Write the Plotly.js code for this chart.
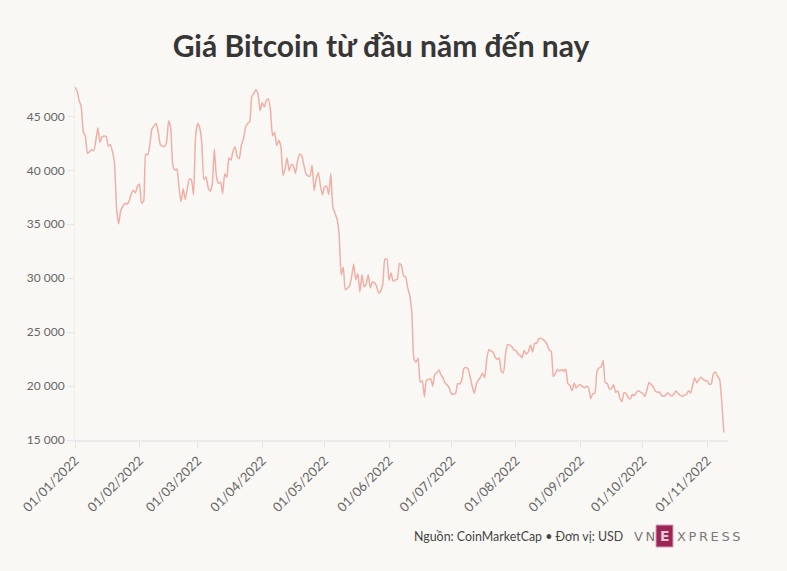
<!DOCTYPE html>
<html>
<head>
<meta charset="utf-8">
<script src="https://cdn.plot.ly/plotly-3.0.1.min.js"></script>
<style>
html,body{margin:0;padding:0;background:#faf8f5;}
#chart{width:787px;height:571px;}
</style>
</head>
<body>
<div id="chart"></div>
<script>
// Daily Bitcoin price (USD), 2022
const jan = [47690,47350,46460,45900,43570,43160,41560,41730,41910,41820,42740,43950,42590,43100,43180,43110,42250,42380,41740,40680,36460,35030,36280,36650,36950,36850,37140,37780,38140,37920,38480];
const feb = [38740,36950,37150,41500,41440,42410,43840,44120,44340,43570,42410,42240,42200,42590,44580,43960,40540,40030,40120,38430,37080,38290,37300,38330,39210,39110,37710,43190];
const mar = [44350,43920,42450,39140,39400,38420,38060,38740,41980,39440,38790,38900,37850,39670,39340,41140,40950,41800,42190,41250,41080,42360,42890,43960,44350,44500,46820,47130,47470,47060,45540];
const apr = [46280,45870,46450,46620,45560,43210,43500,42290,42780,42210,39520,40130,41170,39940,40550,40420,39720,40830,41500,41370,40530,39740,39490,39470,40460,38120,39240,39770,38610,37710];
const may = [38470,38530,37750,39700,36580,36040,35500,34060,30300,31020,28940,29050,29280,30100,31310,29860,30430,28720,30310,29200,29430,30320,29100,29660,29560,29270,28630,28810,29450,31730,31790];
const jun = [29800,30470,29700,29830,29910,31370,31160,30210,30110,29080,28360,26760,22490,22210,22570,20380,20470,19020,20550,20600,20710,19990,21090,21230,21500,21030,20740,20280,20100,19790];
const jul = [19270,19240,19300,20230,20190,20550,21640,21730,21590,20860,19970,19320,20210,20570,20840,21190,20780,22490,23390,23230,23160,22710,22470,22610,21360,21240,22930,23840,23800,23660,23340];
const aug = [23310,22980,22850,22630,23290,22960,23180,23810,23160,23950,23960,24400,24420,24320,24140,23880,23340,23210,20880,21170,21530,21400,21530,21370,21560,20240,20040,19560,20290,19810,20050];
const sep = [20130,19970,19830,19990,19810,18840,19290,19330,21380,21680,21770,22370,20300,20240,19700,19770,20130,19420,19540,18890,18550,19410,19300,18940,18800,19220,19110,19430,19570,19430];
const oct = [19310,19040,19620,20340,20160,19960,19550,19420,19450,19140,19050,19160,19380,19190,19070,19270,19550,19330,19140,19050,19170,19210,19570,19350,20100,20770,20290,20600,20820,20640,20500];
const nov = [20490,20160,20210,21150,21300,20910,20590,18540,15700];

const titleText = 'Giá Bitcoin từ đầu năm đến nay';
const sourceText = 'Nguồn: CoinMarketCap • Đơn vị: USD';

const prices = [].concat(jan,feb,mar,apr,may,jun,jul,aug,sep,oct,nov);
const dates = prices.map((v,i) => {
  const d = new Date(Date.UTC(2022,0,1) + i*86400000);
  return d.toISOString().slice(0,10);
});

const W = 787, H = 571;
const M = {l: 75, r: 59, t: 84, b: 131};
const PW = W - M.l - M.r, PH = H - M.t - M.b;
// paper coords are relative to the plot area
const px = x => (x - M.l) / PW;
const py = y => (H - M.b - y) / PH;
const sp = '\u2009';

const trace = {
  x: dates, y: prices, type: 'scatter', mode: 'lines',
  line: {color: '#f0afa6', width: 1.5, shape: 'spline', smoothing: 0.5},
  hoverinfo: 'x+y'
};

const layout = {
  width: W, height: H,
  paper_bgcolor: '#faf8f5', plot_bgcolor: '#faf8f5',
  margin: M,
  separators: '. ',
  showlegend: false,
  font: {family: 'Lato, "Noto Sans", sans-serif', color: '#666'},
  title: {
    text: '<b>' + titleText + '</b>',
    font: {family: 'Lato, "Noto Sans", sans-serif', size: 30, color: '#363636'},
    x: 381 / W, xref: 'container', xanchor: 'center',
    y: 1 - 46 / H, yref: 'container', yanchor: 'middle'
  },
  xaxis: {
    type: 'date',
    range: ['2022-01-01', '2022-11-11'],
    tick0: '2022-01-01', dtick: 'M1',
    tickformat: '%d/%m/%Y', tickangle: -45,
    tickfont: {size: 13, color: '#666'},
    ticks: 'outside', ticklen: 6, tickcolor: '#e6e6e6', tickwidth: 1,
    showline: true, linecolor: '#ebebeb', linewidth: 2,
    showgrid: false, zeroline: false, fixedrange: true
  },
  yaxis: {
    range: [15000, 48000],
    tick0: 15000, dtick: 5000,
    tickformat: ',d',
    tickfont: {size: 12, color: '#666'},
    ticks: 'outside', ticklen: 7, tickcolor: '#e6e6e6', tickwidth: 1,
    showline: true, linecolor: '#eeeeee', linewidth: 1,
    showgrid: false, zeroline: false, fixedrange: true
  },
  shapes: [
    {type: 'rect', xref: 'paper', yref: 'paper',
     x0: px(656), x1: px(673), y0: py(547), y1: py(525),
     fillcolor: '#9e2457', line: {color: '#d9a0b8', width: 1}}
  ],
  annotations: [
    {text: sourceText, xref: 'paper', yref: 'paper', x: px(412), y: py(536),
     xanchor: 'left', yanchor: 'middle', showarrow: false,
     font: {family: 'Lato, "Noto Sans", sans-serif', size: 12.4, color: '#444'}},
    {text: 'V' + sp + 'N', xref: 'paper', yref: 'paper', x: px(632), y: py(536),
     xanchor: 'left', yanchor: 'middle', showarrow: false,
     font: {family: '"DejaVu Sans", sans-serif', size: 13, color: '#7a7a7a'}},
    {text: '<b>E</b>', xref: 'paper', yref: 'paper', x: px(664.5), y: py(536),
     xanchor: 'center', yanchor: 'middle', showarrow: false,
     font: {family: '"DejaVu Sans", sans-serif', size: 14, color: '#f2c7d6'}},
    {text: ['X','P','R','E','S','S'].join(sp), xref: 'paper', yref: 'paper', x: px(675), y: py(536),
     xanchor: 'left', yanchor: 'middle', showarrow: false,
     font: {family: '"DejaVu Sans", sans-serif', size: 13, color: '#7a7a7a'}}
  ]
};

Plotly.newPlot('chart', [trace], layout, {displayModeBar: false, staticPlot: true});
</script>
</body>
</html>
